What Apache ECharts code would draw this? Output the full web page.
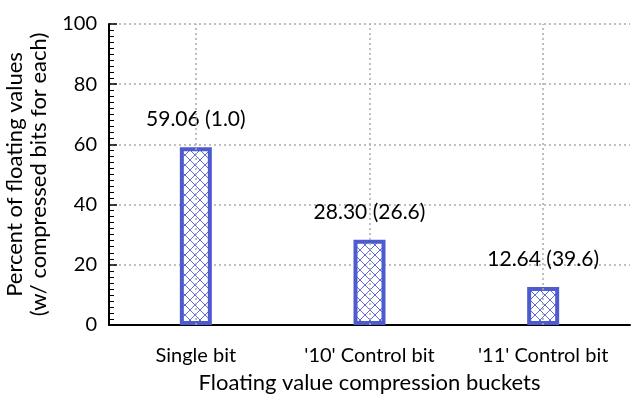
<!DOCTYPE html>
<html>
<head>
<meta charset="utf-8">
<script src="https://cdn.jsdelivr.net/npm/echarts@6/dist/echarts.min.js"></script>
<style>
  html, body { margin: 0; padding: 0; background: #fff; }
  #chart { width: 642px; height: 398px; }
</style>
</head>
<body>
<div id="chart"></div>
<script>
  // data
  var buckets = ['Single bit', "'10' Control bit", "'11' Control bit"]
  var percents = [59.06, 28.30, 12.64]
  var bitsEach = ['1.0', '26.6', '39.6']
  var yTicks = [0, 20, 40, 60, 80, 100]

  var blue = '#4d5bcf'
  var font = 'Lato'

  // cross hatch fill for the bars
  function hatch () {
    var c = document.createElement('canvas')
    c.width = 10
    c.height = 10
    var ctx = c.getContext('2d')
    ctx.fillStyle = '#fff'
    ctx.fillRect(0, 0, 10, 10)
    ctx.strokeStyle = blue
    ctx.lineWidth = 0.9
    ctx.beginPath()
    ctx.moveTo(0, 0); ctx.lineTo(10, 10)
    ctx.moveTo(10, 0); ctx.lineTo(0, 10)
    ctx.stroke()
    return c
  }

  var chart = echarts.init(document.getElementById('chart'))
  chart.setOption({
    animation: false,
    grid: { left: 109, right: 12, top: 24, bottom: 73, containLabel: false, outerBoundsMode: 'none' },
    xAxis: {
      type: 'category',
      data: buckets,
      name: 'Floating value compression buckets',
      nameLocation: 'middle',
      nameGap: 47,
      nameTextStyle: { fontFamily: font, fontSize: 22, color: '#000' },
      axisLine: { lineStyle: { color: '#000', width: 2 } },
      axisTick: { show: false },
      axisLabel: { fontFamily: font, fontSize: 20, color: '#000', margin: 21 },
      splitLine: { show: false }
    },
    yAxis: {
      type: 'value',
      min: yTicks[0],
      max: yTicks[yTicks.length - 1],
      interval: 20,
      name: 'Percent of floating values\n(w/ compressed bits for each)',
      nameLocation: 'middle',
      nameRotate: 90,
      nameGap: 45,
      nameTextStyle: { fontFamily: font, fontSize: 22, color: '#000', lineHeight: 24 },
      axisLine: { show: true, lineStyle: { color: '#000', width: 2 } },
      axisTick: { show: true, inside: true, length: 8, lineStyle: { color: '#000', width: 1.5 } },
      minorTick: { show: true, splitNumber: 10, length: 5, lineStyle: { color: '#000', width: 1 } },
      axisLabel: { fontFamily: font, fontSize: 20, color: '#000', margin: 12 },
      splitLine: { show: true, lineStyle: { color: '#aaa', type: [2, 3], width: 1.5 } }
    },
    series: [
      {
        // dotted vertical lines at each bucket
        type: 'line',
        data: [],
        z: 1,
        silent: true,
        markLine: {
          symbol: 'none',
          silent: true,
          label: { show: false },
          lineStyle: { color: '#aaa', type: [2, 3], width: 1.5 },
          data: buckets.map(function (b) { return { xAxis: b } })
        }
      },
      {
        type: 'bar',
        z: 3,
        barWidth: 32,
        data: percents,
        itemStyle: {
          color: { image: hatch(), repeat: 'repeat' },
          borderColor: blue,
          borderWidth: 4
        },
        label: {
          show: true,
          position: 'top',
          distance: 17,
          fontFamily: font,
          fontSize: 21,
          color: '#000',
          formatter: function (p) {
            return p.value.toFixed(2) + ' (' + bitsEach[p.dataIndex] + ')'
          }
        }
      }
    ]
  })
</script>
</body>
</html>
